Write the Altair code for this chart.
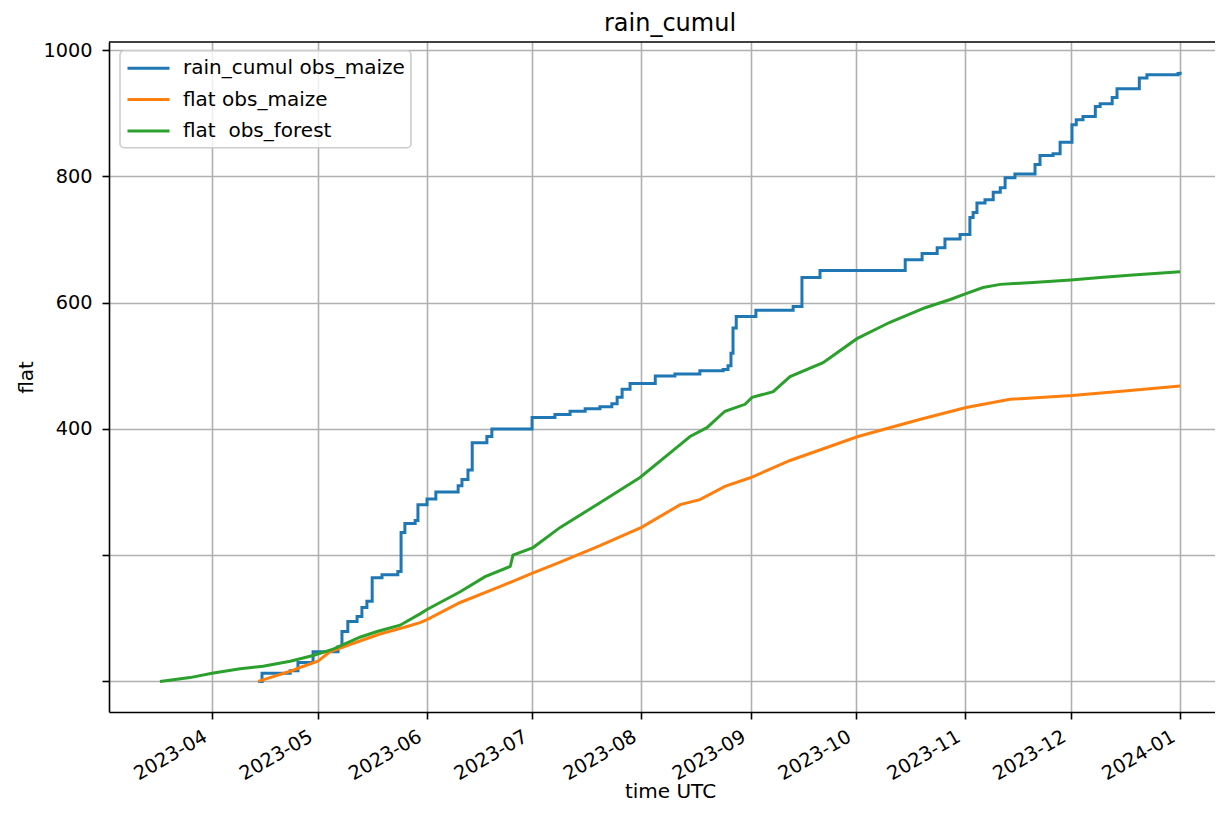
import altair as alt
import pandas as pd

FONT = "DejaVu Sans"

series_names = ["rain_cumul obs_maize", "flat obs_maize", "flat  obs_forest"]
series_colors = ["#1f77b4", "#ff7f0e", "#2ca02c"]

rain_dates = [
    "2023-04-14T02:00", "2023-04-15T05:00", "2023-04-23T05:00", "2023-04-25T10:00",
    "2023-04-29T17:00", "2023-05-06T19:00", "2023-05-07T22:00", "2023-05-09T14:00",
    "2023-05-12T05:00", "2023-05-13T14:00", "2023-05-15T00:00", "2023-05-16T12:00",
    "2023-05-19T07:00", "2023-05-23T19:00", "2023-05-24T17:00", "2023-05-25T19:00",
    "2023-05-28T17:00", "2023-05-29T12:00", "2023-06-01T02:00", "2023-06-03T14:00",
    "2023-06-09T22:00", "2023-06-11T00:00", "2023-06-12T17:00", "2023-06-13T22:00",
    "2023-06-18T02:00", "2023-06-19T12:00", "2023-06-30T22:00", "2023-07-07T10:00",
    "2023-07-11T17:00", "2023-07-16T00:00", "2023-07-20T05:00", "2023-07-23T14:00",
    "2023-07-25T02:00", "2023-07-26T12:00", "2023-07-28T18:00", "2023-08-04T22:00",
    "2023-08-10T12:00", "2023-08-17T14:00", "2023-08-24T05:00", "2023-08-25T14:00",
    "2023-08-26T10:00", "2023-08-27T00:00", "2023-08-27T22:00", "2023-09-02T12:00",
    "2023-09-13T02:00", "2023-09-15T14:00", "2023-09-20T17:00", "2023-10-14T22:00",
    "2023-10-19T17:00", "2023-10-24T00:00", "2023-10-26T05:00", "2023-10-30T12:00",
    "2023-11-02T07:00", "2023-11-03T05:00", "2023-11-04T07:00", "2023-11-06T14:00",
    "2023-11-08T22:00", "2023-11-10T22:00", "2023-11-12T07:00", "2023-11-15T02:00",
    "2023-11-20T19:00", "2023-11-22T05:00", "2023-11-25T22:00", "2023-11-27T22:00",
    "2023-12-01T07:00", "2023-12-02T12:00", "2023-12-04T10:00", "2023-12-07T22:00",
    "2023-12-09T07:00", "2023-12-12T17:00", "2023-12-14T02:00", "2023-12-20T10:00",
    "2023-12-22T14:00", "2023-12-31T10:00", "2024-01-01T00:00",
]
rain_values = [
    0, 13, 17, 30,
    47, 55, 79, 95,
    103, 117, 127, 164,
    169, 174, 236, 250,
    255, 280, 289, 300,
    310, 320, 335, 378,
    388, 400, 418, 423,
    428, 432, 435, 440,
    450, 463, 472, 484,
    487, 492, 494, 500,
    520, 560, 578, 588,
    594, 640, 651, 668,
    678, 687, 701, 708,
    735, 743, 758, 763,
    775, 782, 798, 804,
    819, 833, 836, 854,
    882, 890, 895, 911,
    915, 925, 939, 956,
    961, 963, 966,
]

maize_dates = [
    "2023-04-14T02:00", "2023-04-17T12:00", "2023-04-23T05:00", "2023-04-26T00:00",
    "2023-05-01T02:00", "2023-05-04T12:00", "2023-05-11T00:00", "2023-05-18T17:00",
    "2023-05-26T10:00", "2023-05-30T02:00", "2023-06-01T02:00", "2023-06-10T12:00",
    "2023-06-21T19:00", "2023-07-01T05:00", "2023-07-08T22:00", "2023-07-20T05:00",
    "2023-08-01T00:00", "2023-08-12T00:00", "2023-08-17T14:00", "2023-08-24T17:00",
    "2023-09-01T02:00", "2023-09-12T05:00", "2023-10-01T12:00", "2023-10-19T00:00",
    "2023-11-01T05:00", "2023-11-13T17:00", "2023-12-01T07:00", "2023-12-17T19:00",
    "2024-01-01T00:00",
]
maize_values = [
    0, 6, 16, 22,
    32, 47, 60, 75,
    87, 93, 98, 125,
    150, 172, 189, 215,
    244, 280, 288, 309,
    323, 350, 388, 415,
    434, 447, 453, 461,
    468,
]

forest_dates = [
    "2023-03-17T05:00", "2023-03-25T18:00", "2023-04-01T00:00", "2023-04-09T00:00",
    "2023-04-15T12:00", "2023-04-23T05:00", "2023-04-29T17:00", "2023-05-05T10:00",
    "2023-05-13T00:00", "2023-05-17T22:00", "2023-05-24T10:00", "2023-05-30T02:00",
    "2023-06-01T02:00", "2023-06-10T12:00", "2023-06-17T14:00", "2023-06-24T17:00",
    "2023-06-25T12:00", "2023-07-01T05:00", "2023-07-08T22:00", "2023-07-20T05:00",
    "2023-07-31T14:00", "2023-08-12T00:00", "2023-08-14T19:00", "2023-08-19T14:00",
    "2023-08-24T17:00", "2023-08-30T10:00", "2023-09-01T10:00", "2023-09-07T10:00",
    "2023-09-12T05:00", "2023-09-21T14:00", "2023-10-01T05:00", "2023-10-10T14:00",
    "2023-10-20T14:00", "2023-10-27T17:00", "2023-11-01T00:00", "2023-11-06T00:00",
    "2023-11-10T22:00", "2023-11-20T05:00", "2023-12-01T00:00", "2023-12-09T07:00",
    "2023-12-18T14:00", "2024-01-01T00:00",
]
forest_values = [
    0, 6, 13, 20,
    24, 32, 41, 51,
    70, 79, 89, 107,
    114, 142, 166, 182,
    200, 212, 244, 283,
    323, 375, 388, 402,
    428, 439, 450, 459,
    483, 505, 543, 569,
    592, 605, 614, 624,
    629, 632, 636, 640,
    644, 649,
]

month_ticks = [(2023, m) for m in range(4, 13)] + [(2024, 1)]
y_ticks = [0, 200, 400, 600, 800, 1000]
y_domain = [-48.5, 1013]

rows = []
for name, dates, vals in [
    (series_names[0], rain_dates, rain_values),
    (series_names[1], maize_dates, maize_values),
    (series_names[2], forest_dates, forest_values),
]:
    for d, v in zip(dates, vals):
        rows.append({"time": d + ":00Z", "value": v, "series": name})
df = pd.DataFrame(rows)

W, H = 1106, 670
TICK_FS = 19.3
TEXT_FS = 20

x_enc = alt.X(
    "time:T",
    scale=alt.Scale(
        type="utc",
        domain=[
            alt.DateTime(year=2023, month=3, date=2, hours=17, minutes=45, utc=True),
            alt.DateTime(year=2024, month=1, date=10, hours=22, utc=True),
        ],
    ),
    axis=alt.Axis(
        values=[alt.DateTime(year=y, month=m, date=1, utc=True) for y, m in month_ticks],
        labelExpr="utcFormat(datum.value, '%Y-%m')",
        labelAngle=330,
        labelAlign="right",
        labelBaseline="top",
        labelOffset=-11.5,
        labelPadding=8,
        labelOverlap=False,
        labelFontSize=TICK_FS,
        title="time UTC",
        titleFontSize=TEXT_FS,
        titleX=561,
        titleY=85,
        titleAlign="center",
        titleBaseline="alphabetic",
        grid=True,
    ),
)
y_enc = alt.Y(
    "value:Q",
    scale=alt.Scale(domain=y_domain, nice=False, zero=False),
    axis=alt.Axis(
        values=y_ticks,
        format="d",
        labelExpr="datum.value >= 400 ? datum.label : ''",
        labelFontSize=TICK_FS,
        labelPadding=10,
        labelOverlap=False,
        title="flat",
        titleFontSize=TEXT_FS,
        titleAngle=270,
        titleX=-77,
        titleY=335,
        titleAlign="center",
        titleBaseline="alphabetic",
        grid=True,
    ),
)

legend = alt.Legend(
    title=None,
    orient="none",
    legendX=11,
    legendY=8.7,
    direction="vertical",
    symbolType="M-2.1,0H2.1",
    symbolSize=400,
    symbolStrokeWidth=3,
    symbolOffset=11,
    labelFont=FONT,
    labelFontSize=TEXT_FS,
    labelColor="black",
    labelOffset=23,
    labelLimit=600,
    rowPadding=9.4,
    fillColor="rgba(255,255,255,0.8)",
    strokeColor="#cccccc",
    cornerRadius=4,
    padding=6,
    labelExpr="replace(datum.label, '  ', ' \u00a0')",
)
color_enc = alt.Color(
    "series:N",
    scale=alt.Scale(domain=series_names, range=series_colors),
    sort=series_names,
    legend=legend,
)

base = alt.Chart(df)

rain_layer = base.transform_filter(
    alt.datum.series == series_names[0]
).mark_line(interpolate="step-after", strokeWidth=3).encode(
    x=x_enc, y=y_enc, color=color_enc
)

flat_layer = base.transform_filter(
    alt.datum.series != series_names[0]
).mark_line(strokeWidth=3).encode(
    x=x_enc, y=y_enc, color=color_enc
)

top_spine = alt.Chart(alt.Data(values=[{}])).mark_rule(
    color="black", strokeWidth=1.6
).encode(x=alt.value(0), x2=alt.value(W), y=alt.value(0))

chart = alt.layer(rain_layer, flat_layer, top_spine).properties(
    width=W,
    height=H,
    autosize=alt.AutoSizeParams(type="none"),
    padding={"left": 101, "top": 34, "right": 0, "bottom": 91},
    title=alt.TitleParams(
        text="rain_cumul",
        font=FONT,
        fontSize=24,
        fontWeight="normal",
        color="black",
        anchor="middle",
        frame="group",
        dx=8,
        dy=24,
        offset=10,
        baseline="alphabetic",
    ),
).configure_axis(
    labelFont=FONT,
    titleFont=FONT,
    labelColor="black",
    titleColor="black",
    titleFontWeight="normal",
    gridColor="#b0b0b0",
    gridWidth=1.6,
    domainColor="black",
    domainWidth=1.6,
    tickColor="black",
    tickWidth=1.6,
    tickSize=7,
).configure_legend(
    strokeWidth=1.6,
).configure_view(stroke="transparent")

chart.save("out.html", embed_options={"renderer": "svg", "actions": False})
